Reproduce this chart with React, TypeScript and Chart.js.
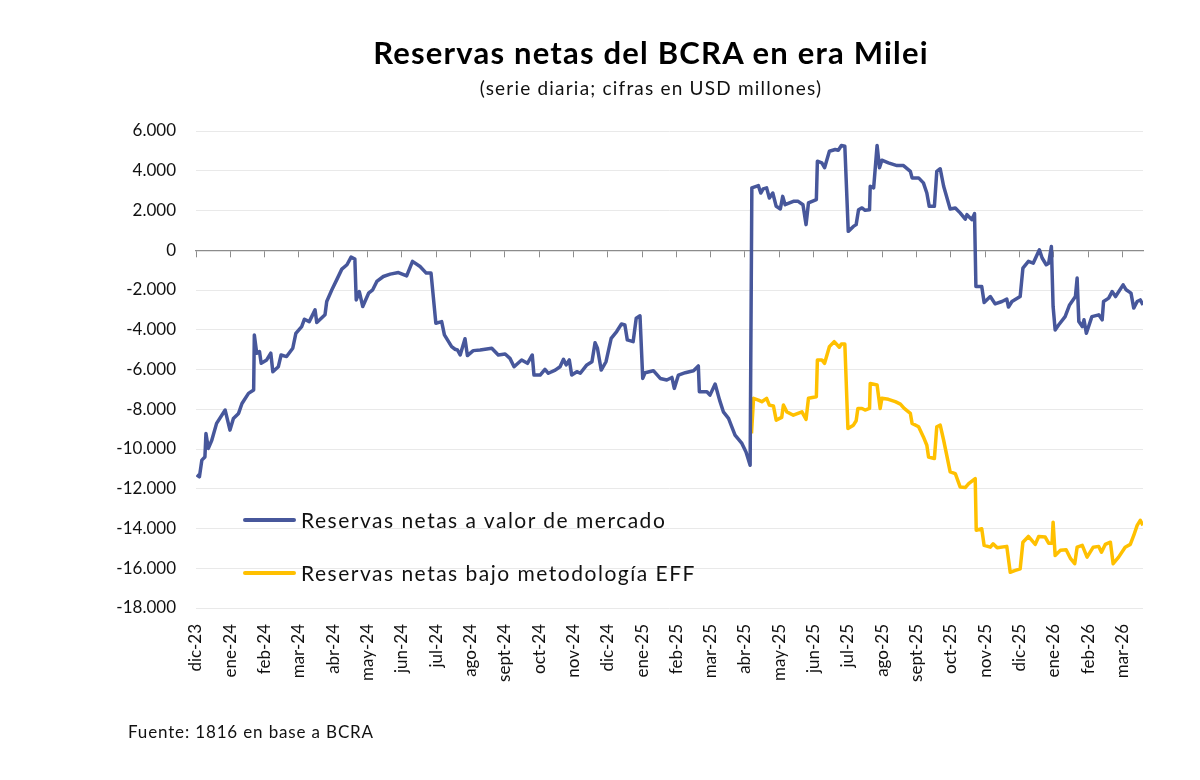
import React, { useEffect, useRef } from 'react';
import { Chart, registerables } from 'chart.js';

Chart.register(...registerables);

// month ticks, one per month from dic-23
const monthLabels = [
  'dic-23', 'ene-24', 'feb-24', 'mar-24', 'abr-24', 'may-24', 'jun-24', 'jul-24',
  'ago-24', 'sept-24', 'oct-24', 'nov-24', 'dic-24', 'ene-25', 'feb-25', 'mar-25',
  'abr-25', 'may-25', 'jun-25', 'jul-25', 'ago-25', 'sept-25', 'oct-25', 'nov-25',
  'dic-25', 'ene-26', 'feb-26', 'mar-26',
];

// x = months since start of dic-23 (fractional), y = USD millones
const mercadoX = [
  0.02, 0.1, 0.17, 0.26, 0.29, 0.36, 0.46, 0.6, 0.85, 0.99, 1.09, 1.24, 1.34, 1.53, 1.68, 1.7,
  1.77, 1.85, 1.9, 2.06, 2.18, 2.24, 2.4, 2.48, 2.64, 2.82, 2.91, 3.08, 3.16, 3.3, 3.47, 3.52,
  3.76, 3.81, 3.96, 4.1, 4.25, 4.4, 4.52, 4.63, 4.67, 4.76, 4.86, 5.03, 5.15, 5.27, 5.46, 5.66,
  5.9, 6.14, 6.31, 6.53, 6.71, 6.85, 6.99, 7.16, 7.24, 7.45, 7.55, 7.62, 7.7, 7.84, 7.91, 8.08,
  8.28, 8.62, 8.81, 9.01, 9.15, 9.27, 9.49, 9.66, 9.8, 9.85, 10.03, 10.17, 10.27, 10.47, 10.61,
  10.71, 10.79, 10.88, 10.95, 11.1, 11.2, 11.39, 11.54, 11.63, 11.7, 11.81, 11.95, 12.1, 12.26,
  12.4, 12.5, 12.57, 12.74, 12.83, 12.94, 13.02, 13.09, 13.33, 13.53, 13.72, 13.87, 13.94, 14.06,
  14.26, 14.5, 14.64, 14.67, 14.89, 14.98, 15.13, 15.26, 15.37, 15.52, 15.71, 15.91, 16.03, 16.15,
  16.2, 16.39, 16.46, 16.53, 16.63, 16.71, 16.81, 16.91, 17.03, 17.1, 17.17, 17.41, 17.55, 17.69,
  17.78, 17.85, 18.08, 18.11, 18.24, 18.32, 18.46, 18.63, 18.72, 18.81, 18.91, 19.01, 19.16, 19.24,
  19.31, 19.41, 19.5, 19.63, 19.65, 19.75, 19.85, 19.92, 19.99, 20.18, 20.43, 20.62, 20.82, 20.87,
  21.06, 21.2, 21.3, 21.37, 21.52, 21.59, 21.69, 21.79, 21.98, 22.13, 22.27, 22.42, 22.47, 22.61,
  22.69, 22.73, 22.9, 22.97, 23.15, 23.29, 23.49, 23.63, 23.68, 23.78, 24.02, 24.1, 24.26, 24.4,
  24.58, 24.66, 24.78, 24.85, 24.93, 24.98, 25.04, 25.14, 25.33, 25.46, 25.63, 25.68, 25.73, 25.83,
  25.88, 25.95, 26.11, 26.31, 26.41, 26.45, 26.6, 26.7, 26.8, 27.02, 27.11, 27.25, 27.33, 27.43,
  27.52, 27.6,
];
const mercadoY = [
  -11300, -11400, -10560, -10400, -9220, -9970, -9560, -8710, -8040, -9050, -8460, -8210, -7710, -7200, -7030, -4260,
  -5180, -5100, -5690, -5520, -5180, -6110, -5860, -5270, -5350, -4930, -4180, -3840, -3470, -3590, -3000, -3640,
  -3250, -2580, -1990, -1490, -950, -730, -345, -445, -2500, -2080, -2830, -2160, -1990, -1570, -1320, -1200,
  -1120, -1290, -560, -820, -1150, -1150, -3670, -3590, -4260, -4850, -4980, -5020, -5270, -4450, -5300, -5050,
  -5020, -4930, -5270, -5220, -5440, -5860, -5520, -5690, -5270, -6280, -6280, -5990, -6190, -6030, -5860,
  -5490, -5770, -5520, -6280, -6110, -6190, -5770, -5610, -4650, -4930, -6030, -5610, -4430, -4090,
  -3710, -3760, -4510, -4600, -3420, -3300, -6450, -6160, -6060, -6450, -6530, -6400, -6950, -6280,
  -6160, -6060, -5820, -7120, -7120, -7290, -6730, -7540, -8130, -8460, -9300, -9720, -10150, -10820,
  3140, 3250, 2880, 3090, 3140, 2630, 2880, 2210, 2080, 2710, 2290, 2460, 2460, 2290,
  1290, 2380, 2550, 4480, 4400, 4150, 4980, 5070, 5030, 5270, 5230, 950, 1200, 1290,
  2040, 2130, 2010, 2040, 3220, 3140, 5270, 4150, 4530, 4400, 4260, 4260, 3970, 3640,
  3640, 3390, 2880, 2210, 2210, 3970, 4100, 3220, 2080, 2130, 1880, 1570, 1790, 1540,
  1840, -1820, -1820, -2630, -2330, -2700, -2580, -2460, -2860, -2580, -2330, -900, -560, -650,
  25, -390, -730, -650, 190, -2830, -4010, -3760, -3340, -2750, -2330, -1400, -3590, -3840,
  -3500, -4180, -3340, -3250, -3500, -2580, -2410, -2080, -2330, -1740, -1990, -2160, -2910, -2580,
  -2500, -2750,
];

const effX = [
  16.19, 16.25, 16.39, 16.49, 16.63, 16.71, 16.83, 16.91, 17.07, 17.12, 17.22, 17.41, 17.66, 17.78,
  17.85, 18.08, 18.11, 18.24, 18.32, 18.46, 18.6, 18.75, 18.81, 18.91, 19.0, 19.16, 19.24, 19.29,
  19.41, 19.5, 19.63, 19.65, 19.85, 19.94, 19.99, 20.18, 20.38, 20.53, 20.64, 20.82, 20.87, 21.06,
  21.2, 21.3, 21.35, 21.52, 21.59, 21.69, 21.79, 21.98, 22.13, 22.27, 22.42, 22.52, 22.71, 22.74,
  22.9, 22.97, 23.15, 23.23, 23.35, 23.63, 23.73, 23.88, 24.02, 24.1, 24.26, 24.46, 24.56, 24.75,
  24.85, 24.95, 24.98, 25.04, 25.19, 25.36, 25.49, 25.61, 25.68, 25.83, 25.97, 26.15, 26.31, 26.39,
  26.5, 26.65, 26.73, 26.89, 27.08, 27.23, 27.33, 27.43, 27.52, 27.6,
];
const effY = [
  -9220, -7450, -7540, -7620, -7450, -7790, -7840, -8550, -8410, -7790, -8130, -8300, -8130, -8510,
  -7450, -7370, -5520, -5520, -5690, -4850, -4600, -4880, -4720, -4720, -8970, -8800, -8580, -7960,
  -7960, -8040, -7960, -6700, -6780, -7960, -7450, -7500, -7620, -7740, -7960, -8210, -8710, -8880,
  -9390, -9810, -10400, -10480, -8880, -8800, -9560, -11150, -11240, -11910, -11940, -11740, -11490, -14090,
  -14010, -14850, -14940, -14770, -14970, -14900, -16200, -16110, -16030, -14690, -14400, -14800, -14400, -14430,
  -14740, -14740, -13680, -15360, -15100, -15070, -15520, -15770, -14940, -14850, -15440, -14940, -14900, -15190,
  -14800, -14690, -15770, -15440, -14940, -14800, -14350, -13840, -13590, -13840,
];

const seriesLabels = ['Reservas netas a valor de mercado', 'Reservas netas bajo metodología EFF'];
const seriesColors = ['#47579B', '#FFC000'];

const FONT = 'Lato, "Noto Sans", sans-serif';

const fmt = (v: number) => {
  const s = Math.abs(v).toString().replace(/\B(?=(\d{3})+(?!\d))/g, '.');
  return v < 0 ? '-' + s : s;
};

const ReservasChart: React.FC = () => {
  const canvasRef = useRef<HTMLCanvasElement>(null);
  const chartRef = useRef<Chart | null>(null);

  useEffect(() => {
    document.body.style.margin = '0';
    if (!canvasRef.current) return;
    if (chartRef.current) chartRef.current.destroy();

    const series = [
      { xs: mercadoX, ys: mercadoY },
      { xs: effX, ys: effY },
    ];

    chartRef.current = new Chart(canvasRef.current, {
      type: 'line',
      data: {
        datasets: series.map((s, k) => ({
          label: seriesLabels[k],
          data: s.xs.map((x, i) => ({ x, y: s.ys[i] })),
          borderColor: seriesColors[k],
          borderWidth: 3.5,
          pointRadius: 0,
          tension: 0,
          fill: false,
          borderJoinStyle: 'round' as const,
        })),
      },
      options: {
        animation: false,
        responsive: false,
        layout: { padding: { top: 131, right: 57, left: 0, bottom: 0 } },
        plugins: {
          legend: { display: false },
          tooltip: { enabled: false },
        },
        scales: {
          x: {
            type: 'linear',
            min: 0,
            max: 27.6,
            afterFit: (s: any) => { s.height = 172; },
            grid: { display: false },
            border: { display: false },
            ticks: {
              stepSize: 1,
              includeBounds: false,
              autoSkip: false,
              minRotation: 90,
              maxRotation: 90,
              padding: 8,
              color: '#111',
              font: { family: FONT, size: 17 },
              callback: (v: any) => monthLabels[Math.round(Number(v))] ?? '',
            },
          },
          // zero line with month tick marks
          x2: {
            type: 'linear',
            position: { y: 0 },
            min: 0,
            max: 27.6,
            afterFit: (s: any) => { s.height = 0; },
            ticks: { display: false, stepSize: 1, includeBounds: false },
            grid: { drawOnChartArea: false, tickLength: 6, color: '#8c8c8c', lineWidth: 1 },
            border: { color: '#8c8c8c', width: 1.3 },
          },
          y: {
            min: -18000,
            max: 6000,
            afterFit: (s: any) => { s.width = 196; },
            border: { display: false },
            grid: { drawTicks: false, color: '#e9e9e9' },
            ticks: {
              stepSize: 2000,
              padding: 20,
              color: '#111',
              font: { family: FONT, size: 17 },
              callback: (v: any) => fmt(Number(v)),
            },
          },
        },
      },
    });

    return () => {
      if (chartRef.current) {
        chartRef.current.destroy();
        chartRef.current = null;
      }
    };
  }, []);

  return (
    <div style={{ position: 'relative', width: 1200, height: 780, background: '#fff', fontFamily: FONT, color: '#000' }}>
      <canvas ref={canvasRef} width={1200} height={780} style={{ position: 'absolute', left: 0, top: 0, width: 1200, height: 780 }} />
      <div style={{ position: 'absolute', left: 651, top: 33, transform: 'translateX(-50%)', whiteSpace: 'nowrap', fontSize: 31, fontWeight: 700, letterSpacing: 1.2, lineHeight: '38px' }}>
        Reservas netas del BCRA en era Milei
      </div>
      <div style={{ position: 'absolute', left: 651, top: 76, transform: 'translateX(-50%)', whiteSpace: 'nowrap', fontSize: 19, letterSpacing: 1.2, lineHeight: '24px', color: '#111' }}>
        (serie diaria; cifras en USD millones)
      </div>
      {seriesLabels.map((label, k) => (
        <div key={label} style={{ position: 'absolute', left: 243, top: 508 + k * 53, height: 24, display: 'flex', alignItems: 'center', whiteSpace: 'nowrap' }}>
          <span style={{ display: 'inline-block', width: 53, height: 4, borderRadius: 2, background: seriesColors[k], marginRight: 5 }} />
          <span style={{ fontSize: 21, letterSpacing: 1.5, lineHeight: '24px', color: '#111' }}>{label}</span>
        </div>
      ))}
      <div style={{ position: 'absolute', left: 128, top: 721, fontSize: 17, letterSpacing: 0.85, lineHeight: '22px', color: '#111', whiteSpace: 'nowrap' }}>
        Fuente: 1816 en base a BCRA
      </div>
    </div>
  );
};

export default function App() {
  return <ReservasChart />;
}
